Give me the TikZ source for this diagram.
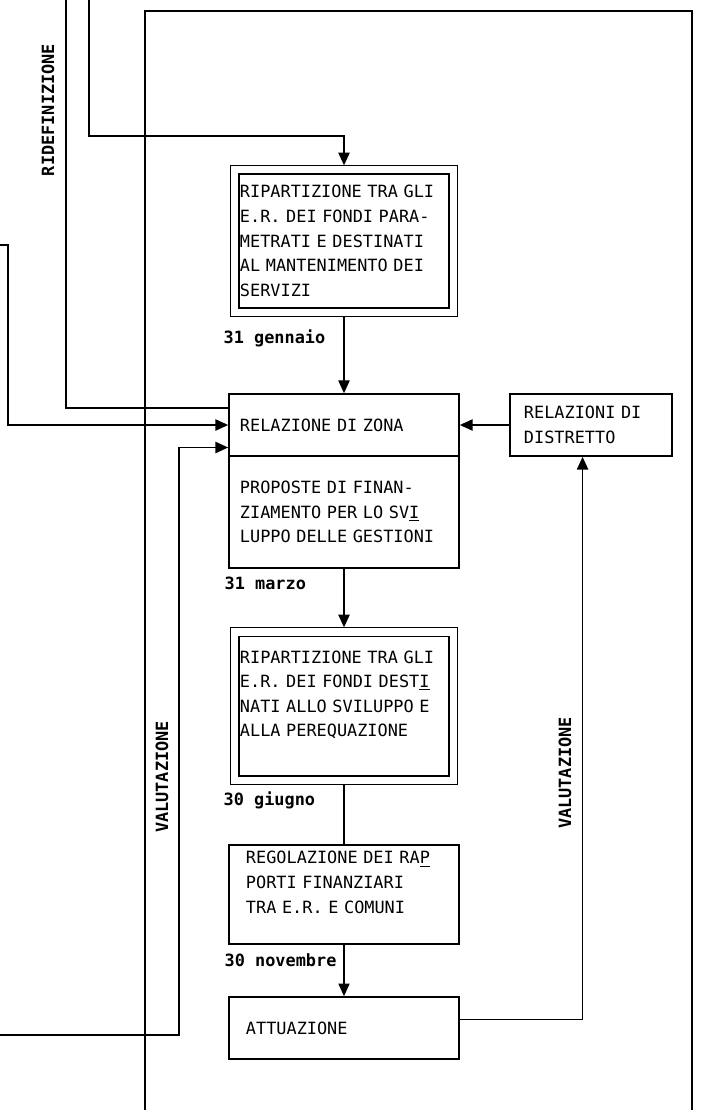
\documentclass[tikz,border=0pt]{standalone}
\usepackage{fontspec}
\setmonofont{DejaVu Sans Mono}
\usetikzlibrary{arrows.meta,shapes}
\newcommand{\boxfont}{\ttfamily\fontsize{12}{17.5}\selectfont}
\newcommand{\datefont}{\ttfamily\bfseries\fontsize{12}{14}\selectfont}
\tikzstyle{fase}=[rectangle,draw=black,line width=1.2pt,inner sep=2pt,align=left,font=\boxfont]
\tikzstyle{fasedoppia}=[fase,double,double distance=5pt,line width=0.9pt,outer sep=3.3pt]
\tikzstyle{flusso}=[-{Triangle[length=9pt,width=8pt]}, line width=1pt]
\tikzstyle{scad}=[anchor=west,inner sep=0pt,font=\datefont]
\tikzstyle{etich}=[rotate=90,font=\datefont]

\begin{document}
\begin{tikzpicture}[x=0.025cm,y=-0.025cm,line width=1pt]
\useasboundingbox (0,0) rectangle (703,1110);
\node[fasedoppia,minimum width=5.45cm,minimum height=3.55cm,text width=5.2cm] (rip1) at (344,241) {RIPARTIZIONE TRA GLI\\E.R. DEI FONDI PARA-\\METRATI E DESTINATI\\AL MANTENIMENTO DEI\\SERVIZI};
\node[fase,minimum width=5.75cm,minimum height=1.55cm,text width=5.2cm] (zona) at (344,425) {RELAZIONE DI ZONA};
\node[fase,minimum width=5.75cm,minimum height=2.8cm,text width=5.2cm] (prop) at (344,512) {PROPOSTE DI FINAN-\\ZIAMENTO PER LO SV\underline{I}\\LUPPO DELLE GESTIONI};
\node[fase,minimum width=4.05cm,minimum height=1.55cm,text width=3.35cm] (distr) at (591,425) {RELAZIONI DI\\DISTRETTO};
\node[fasedoppia,minimum width=5.45cm,minimum height=3.7cm,text width=5.2cm] (rip2) at (344,706) {RIPARTIZIONE TRA GLI\\E.R. DEI FONDI DEST\underline{I}\\NATI ALLO SVILUPPO E\\ALLA PEREQUAZIONE\\~};
\node[fase,minimum width=5.75cm,minimum height=2.475cm,text width=4.9cm] (rego) at (344,894.5) {REGOLAZIONE DEI RA\underline{P}\\PORTI FINANZIARI\\TRA E.R. E COMUNI\\~};
\node[fase,minimum width=5.75cm,minimum height=1.55cm,text width=4.9cm] (attu) at (344,1028) {ATTUAZIONE};
\node[scad] (gen) at (223,338) {31 gennaio};
\node[scad] (mar) at (224,583) {31 marzo};
\node[scad] (giu) at (223,800) {30 giugno};
\node[scad] (nov) at (224,960) {30 novembre};
\node[etich] (ridef) at (48,110) {RIDEFINIZIONE};
\node[etich] (valsx) at (162,777) {VALUTAZIONE};
\node[etich] (valdx) at (565,773) {VALUTAZIONE};
% cornice aperta in basso
\draw[line width=0.85pt] (145,1110) -- (145,11) -- (692,11) -- (692,1110);
\coordinate (ridtop) at (66,0);
\coordinate (ptop) at (89,0);
\coordinate (lsup) at (0,245);
\coordinate (linf) at (0,1035);
\draw (ridtop) |- ([yshift=12pt]zona.west);
\draw[flusso] (ptop) -- ++(0,136) -| (rip1.north);
\draw[flusso] (lsup) -- ++(8,0) |- (zona.west);
\draw[flusso] (linf) -- ++(179,0) |- ([yshift=-16pt]zona.west);
\draw[flusso] (distr) -- (zona);
\draw[flusso] (rip1) -- (zona);
\draw[flusso] (prop) -- (rip2);
\draw (rip2) -- (rego);
\draw[flusso] (rego) -- (attu);
\draw[flusso] ([yshift=6pt]attu.east) -| ([xshift=-6pt]distr.south);
\end{tikzpicture}
\end{document}
